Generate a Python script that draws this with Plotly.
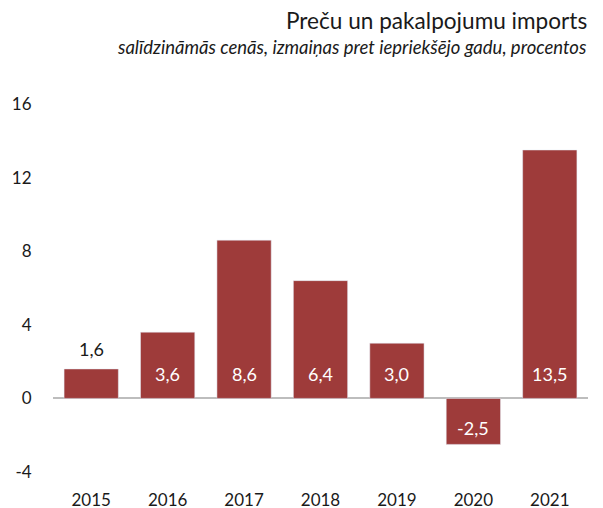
import plotly.graph_objects as go

years = ['2015', '2016', '2017', '2018', '2019', '2020', '2021']
values = [1.6, 3.6, 8.6, 6.4, 3.0, -2.5, 13.5]
labels = ['1,6', '3,6', '8,6', '6,4', '3,0', '-2,5', '13,5']
y_ticks = [-4, 0, 4, 8, 12, 16]
y_tick_text = ['-4', '0', '4', '8', '12', '16']

bar_color = '#9e3b3a'
font_family = 'Lato, Open Sans, sans-serif'

fig = go.Figure(go.Bar(
    x=years, y=values,
    marker_color=bar_color,
    hoverinfo='skip',
))

# value labels: near the base inside the bar, above the bar when it is too short
# (x given as category index so the category axis doesn't read "2015" as a number)
annotations = []
for i, (v, lab) in enumerate(zip(values, labels)):
    if 0 < v < 2.5:
        annotations.append(dict(x=i, y=v, text=lab, showarrow=False, yanchor='bottom',
                                yshift=7, font=dict(color='#1a1a1a', size=18)))
    elif v > 0:
        annotations.append(dict(x=i, y=0, text=lab, showarrow=False, yanchor='middle',
                                yshift=24, font=dict(color='white', size=18)))
    else:
        annotations.append(dict(x=i, y=0, text=lab, showarrow=False, yanchor='middle',
                                yshift=-30, font=dict(color='white', size=18)))

annotations.append(dict(xref='paper', yref='paper', x=1, y=1, xanchor='right', yanchor='middle',
                        xshift=1, yshift=84, showarrow=False, text='Preču un pakalpojumu imports',
                        font=dict(size=22.6, color='#1a1a1a')))
annotations.append(dict(xref='paper', yref='paper', x=1, y=1, xanchor='right', yanchor='middle',
                        xshift=0, yshift=57, showarrow=False,
                        text='<i>salīdzināmās cenās, izmaiņas pret iepriekšējo gadu, procentos</i>',
                        font=dict(size=18.5, color='#1a1a1a')))

# page body adds an 8px margin, so the figure is 8px smaller than the window
fig.update_layout(
    width=595,
    height=500,
    margin=dict(l=45, r=15, t=96, b=36),
    paper_bgcolor='white',
    plot_bgcolor='white',
    bargap=0.29,
    showlegend=False,
    font=dict(family=font_family, size=17, color='#1a1a1a'),
    annotations=annotations,
    xaxis=dict(type='category', categoryorder='array', categoryarray=years,
               range=[-0.5, len(years) - 0.5], showgrid=False, showline=False,
               ticks='outside', ticklen=13, tickcolor='rgba(0,0,0,0)',
               tickfont=dict(size=17), automargin=False),
    yaxis=dict(range=[-4, 16], tickvals=y_ticks, ticktext=y_tick_text,
               showgrid=False, showline=False,
               zeroline=True, zerolinecolor='#bdbdbd', zerolinewidth=2,
               ticks='outside', ticklen=17, tickcolor='rgba(0,0,0,0)',
               tickfont=dict(size=17), automargin=False),
)

fig.write_html("out.html")
